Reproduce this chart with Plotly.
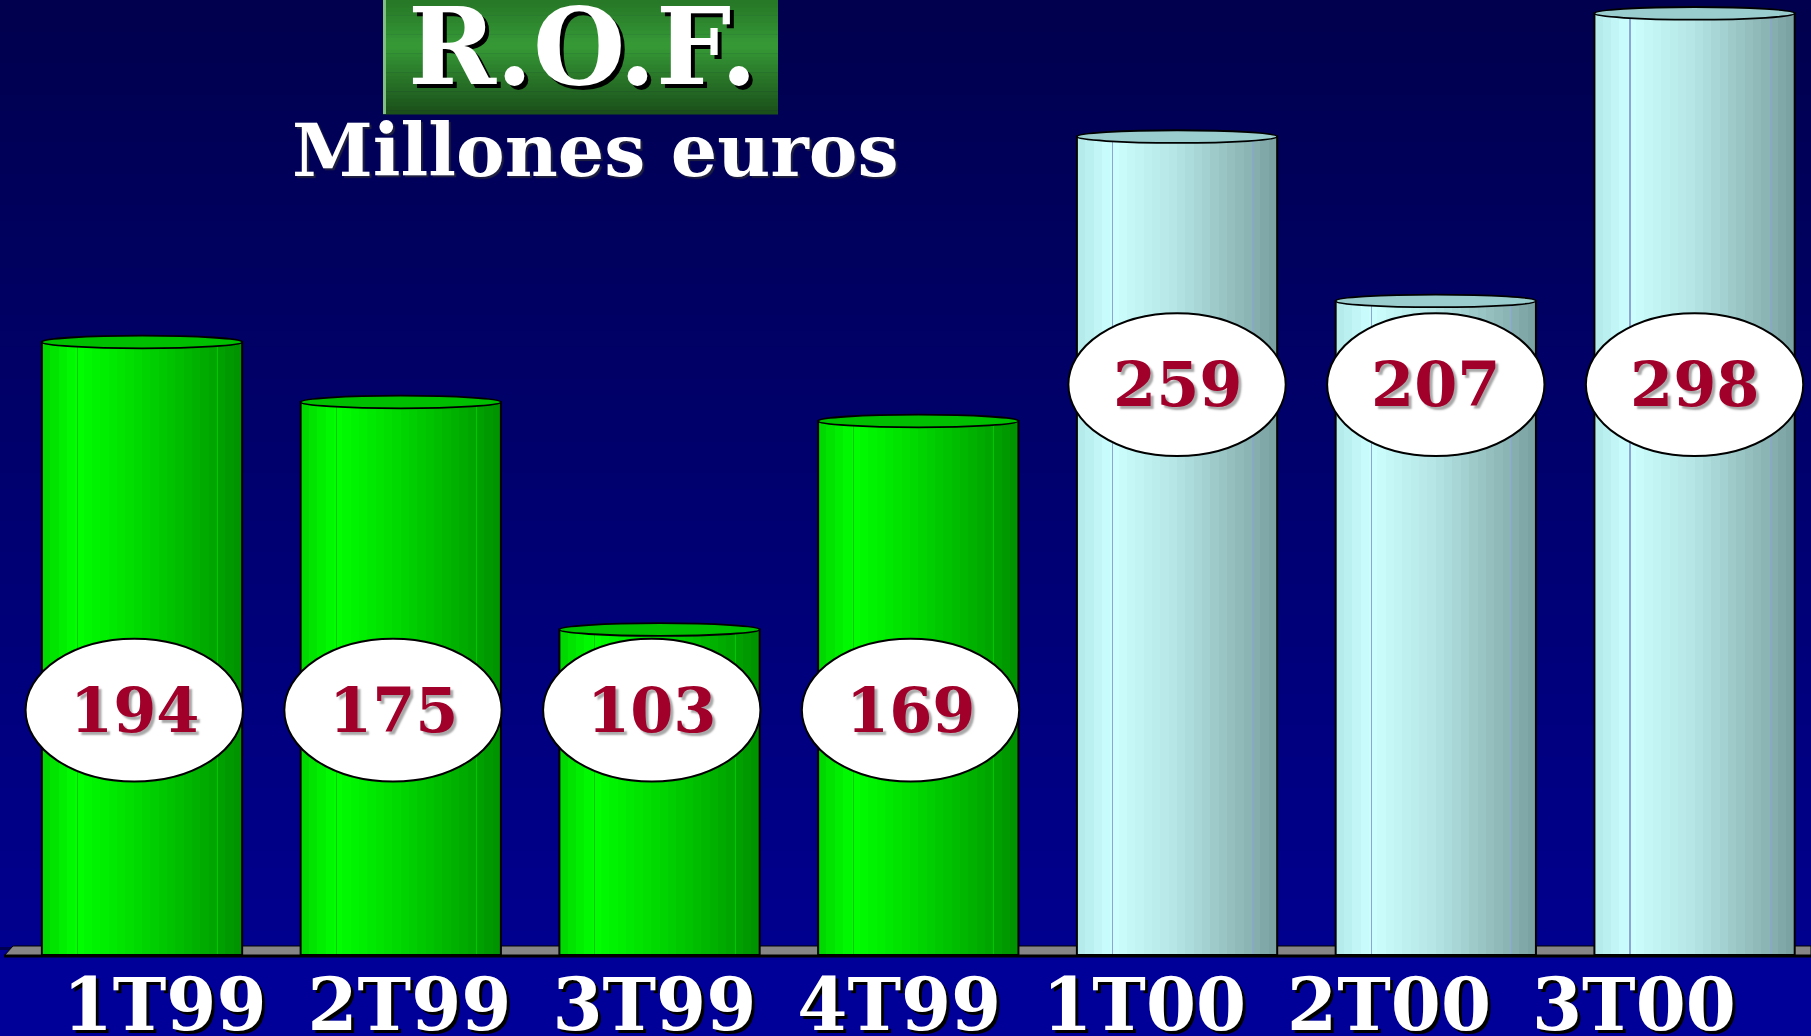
import plotly.graph_objects as go

# ---------------- data ----------------
categories = ["1T99", "2T99", "3T99", "4T99", "1T00", "2T00", "3T00"]
values = [194, 175, 103, 169, 259, 207, 298]
years = ["1999", "1999", "1999", "1999", "2000", "2000", "2000"]
title_main = "R.O.F."
title_sub = "Millones euros"

# ---------------- styling helpers ----------------
W_PX, H_PX = 1811, 1036
positions = list(range(len(categories)))
BAR_W = 0.774
N_STRIPS = 24

green_stops = [(0.0, (0, 212, 0)), (0.17, (0, 255, 0)), (0.5, (0, 215, 0)), (1.0, (0, 145, 0))]
cyan_stops = [(0.0, (178, 232, 232)), (0.18, (205, 255, 255)), (0.5, (180, 228, 228)), (1.0, (122, 160, 160))]


def interp(stops, t):
    for (t0, c0), (t1, c1) in zip(stops[:-1], stops[1:]):
        if t0 <= t <= t1:
            f = (t - t0) / (t1 - t0) if t1 > t0 else 0
            return tuple(int(round(a + (b - a) * f)) for a, b in zip(c0, c1))
    return stops[-1][1]


def rgb(c):
    return "rgb(%d,%d,%d)" % c


def px(x):
    return x / W_PX


def py(y):
    return 1 - y / H_PX


fig = go.Figure()

# cylinder bars built from vertical strips
for k in range(N_STRIPS):
    t = (k + 0.5) / N_STRIPS
    cols = [rgb(interp(green_stops if y == "1999" else cyan_stops, t)) for y in years]
    fig.add_trace(go.Bar(
        x=positions, y=values, width=BAR_W / N_STRIPS + 0.002,
        offset=-BAR_W / 2 + k * BAR_W / N_STRIPS,
        marker=dict(color=cols, line=dict(width=0)),
        hoverinfo="skip", showlegend=False,
    ))

# faint facet lines on the cylinders
for t in (0.175, 0.875):
    cols = ["rgb(0,200,0)" if y == "1999" else "rgb(140,165,215)" for y in years]
    fig.add_trace(go.Bar(
        x=positions, y=values, width=0.004, offset=-BAR_W / 2 + t * BAR_W,
        marker=dict(color=cols, line=dict(width=0)),
        hoverinfo="skip", showlegend=False,
    ))

# outline of each bar
fig.add_trace(go.Bar(
    x=positions, y=values, width=BAR_W,
    marker=dict(color="rgba(0,0,0,0)", line=dict(color="black", width=2)),
    hoverinfo="skip", showlegend=False,
))

# invisible trace for the label axis
fig.add_trace(go.Scatter(
    x=positions, y=values, xaxis="x2", mode="markers",
    marker=dict(opacity=0), hoverinfo="skip", showlegend=False,
))

shapes = []
# background vertical gradient
NB = 60
top_c, bot_c = (0, 0, 78), (0, 0, 142)
for i in range(NB):
    f = i / (NB - 1)
    c = tuple(int(round(a + (b - a) * f)) for a, b in zip(top_c, bot_c))
    y1 = 1 - i * (946 / H_PX) / NB
    y0 = 1 - (i + 1) * (946 / H_PX) / NB
    shapes.append(dict(type="rect", xref="paper", yref="paper", x0=0, x1=1, y0=y0 - 0.001, y1=y1,
                       fillcolor=rgb(c), line=dict(width=0), layer="below"))
# lower band
shapes.append(dict(type="rect", xref="paper", yref="paper", x0=0, x1=1, y0=0, y1=py(950),
                   fillcolor="#000099", line=dict(width=0), layer="below"))
# floor
shapes.append(dict(type="path", xref="paper", yref="paper",
                   path="M %f,%f L %f,%f L %f,%f L %f,%f Z" % (px(13), py(946), px(1811), py(946),
                                                                 px(1811), py(956), px(4), py(956)),
                   fillcolor="#868686", line=dict(color="black", width=1), layer="below"))
shapes.append(dict(type="line", xref="paper", yref="paper", x0=px(4), x1=1, y0=py(956), y1=py(956),
                   line=dict(color="black", width=3), layer="below"))

# caps on top of bars
for p, v, yr in zip(positions, values, years):
    shapes.append(dict(type="circle", xref="x", yref="y", x0=p - BAR_W / 2, x1=p + BAR_W / 2,
                       y0=v - 2.0, y1=v + 2.0,
                       fillcolor="#00BE00" if yr == "1999" else "#9ACDCD",
                       line=dict(color="black", width=1.8), layer="above"))

# value ellipses
for p, v, yr in zip(positions, values, years):
    cy = 77.5 if yr == "1999" else 180.5
    cx = p - 0.03 if yr == "1999" else p
    shapes.append(dict(type="circle", xref="x", yref="y", x0=cx - 0.42, x1=cx + 0.42,
                       y0=cy - 22.6, y1=cy + 22.6, fillcolor="white",
                       line=dict(color="black", width=2), layer="above"))

# title box with gradient
box_x0, box_x1, box_h = 383, 778, 114
tb_stops = [(0.0, (38, 118, 38)), (0.4, (54, 154, 54)), (1.0, (26, 78, 26))]
NT = 30
for i in range(NT):
    t = (i + 0.5) / NT
    shapes.append(dict(type="rect", xref="paper", yref="paper", x0=px(box_x0), x1=px(box_x1),
                       y0=py(box_h * (i + 1) / NT) - 0.0005, y1=py(box_h * i / NT),
                       fillcolor=rgb(interp(tb_stops, t)), line=dict(width=0), layer="above"))
shapes.append(dict(type="rect", xref="paper", yref="paper", x0=px(box_x0), x1=px(box_x0 + 3),
                   y0=py(box_h), y1=1, fillcolor="#7fbf7f", line=dict(width=0), layer="above"))

annotations = []
for p, v, yr in zip(positions, values, years):
    cy = 77.5 if yr == "1999" else 180.5
    cx = p - 0.03 if yr == "1999" else p
    annotations.append(dict(x=cx, y=cy, xref="x", yref="y", text=str(v), showarrow=False,
                            xanchor="center", yanchor="middle",
                            font=dict(family="DejaVu Serif", size=62, color="#A0002A", weight="bold",
                                      shadow="3px 3px 2px #a8a8a8")))

annotations.append(dict(x=px(583), y=py(47), xref="paper", yref="paper", text=title_main,
                        showarrow=False, xanchor="center", yanchor="middle",
                        font=dict(family="DejaVu Serif", size=106, color="white", weight="bold",
                                  shadow="4px 4px 0px #000000")))
annotations.append(dict(x=px(595), y=py(150), xref="paper", yref="paper", text=title_sub,
                        showarrow=False, xanchor="center", yanchor="middle",
                        font=dict(family="DejaVu Serif", size=73, color="white", weight="bold",
                                  shadow="2px 2px 1px #202040")))

fig.update_layout(
    template="none",
    width=W_PX, height=H_PX,
    margin=dict(l=0, r=0, t=0, b=0, pad=0, autoexpand=False),
    paper_bgcolor="#000050", plot_bgcolor="rgba(0,0,0,0)",
    barmode="overlay", bargap=0,
    showlegend=False,
    xaxis=dict(range=[-0.5488, 6.450], showgrid=False, zeroline=False, showticklabels=False,
               showline=False, ticks="", automargin=False),
    xaxis2=dict(range=[-0.672, 6.723], overlaying="x", anchor="y", side="bottom",
                tickmode="array", tickvals=positions, ticktext=categories,
                tickfont=dict(family="DejaVu Serif", size=72, color="white", weight="bold",
                              shadow="3px 3px 0px #000000"),
                showgrid=False, zeroline=False, showline=False, ticks="", ticklabelstandoff=2,
                automargin=False),
    yaxis=dict(domain=[(H_PX - 955) / H_PX, 1], range=[0, 955 / 3.16], showgrid=False,
               zeroline=False, showticklabels=False, showline=False, ticks="", automargin=False),
    shapes=shapes,
    annotations=annotations,
)

fig.write_html("out.html", config={"displayModeBar": False, "staticPlot": True},
               post_script="document.body.style.margin='0';document.body.style.overflow='hidden';")
